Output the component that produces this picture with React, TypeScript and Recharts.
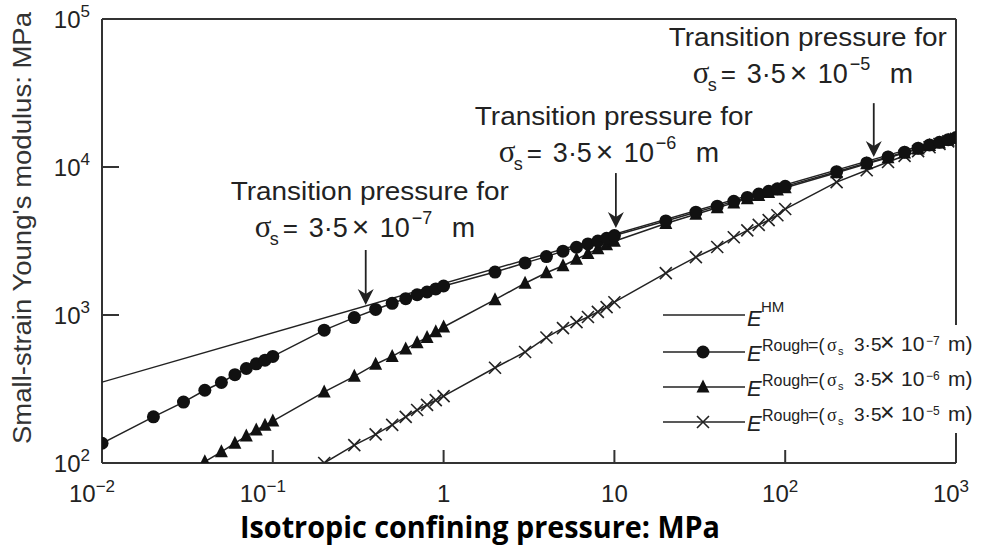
import React from 'react';
import { ScatterChart, Scatter, XAxis, YAxis, ReferenceLine } from 'recharts';

// confining pressure steps used by the rough-contact series (MPa)
const pressures = [
  0.01, 0.02, 0.03, 0.04, 0.05, 0.06, 0.07, 0.08, 0.09, 0.1,
  0.2, 0.3, 0.4, 0.5, 0.6, 0.7, 0.8, 0.9, 1,
  2, 3, 4, 5, 6, 7, 8, 9, 10,
  20, 30, 40, 50, 60, 70, 80, 90, 100,
  200, 300, 400, 500, 600, 700, 800, 900, 1000,
];

// sigma_s = 3.5e-7 m
const roughE7 = [
  136, 205, 258, 310, 350, 395, 435, 468, 495, 525,
  790, 960, 1090, 1200, 1290, 1370, 1430, 1500, 1570,
  1950, 2250, 2480, 2700, 2870, 3020, 3160, 3300, 3440,
  4320, 4950, 5440, 5860, 6230, 6560, 6860, 7130, 7400,
  9300, 10650, 11700, 12600, 13400, 14100, 14700, 15300, 15800,
];

// sigma_s = 3.5e-6 m
const roughE6 = [
  null, null, null, 102, 119, 136, 152, 167, 180, 192,
  302, 385, 465, 525, 590, 650, 705, 770, 830,
  1270, 1640, 1930, 2150, 2380, 2600, 2800, 2980, 3150,
  4150, 4800, 5300, 5720, 6100, 6430, 6720, 7000, 7250,
  9150, 10500, 11550, 12450, 13250, 13950, 14550, 15150, 15650,
];

// sigma_s = 3.5e-5 m
const roughE5 = [
  null, null, null, null, null, null, null, null, null, null,
  100, 132, 156, 181, 205, 228, 247, 266, 283,
  440, 562, 705, 815, 895, 970, 1050, 1130, 1220,
  1920, 2460, 2880, 3350, 3730, 4060, 4380, 4720, 5200,
  7900, 9500, 10800, 11900, 12800, 13600, 14300, 14900, 15500,
];

// Hertz-Mindlin smooth contact
const hmP = [0.01, 1000];
const hmE = [352, 16300];

// transition pressure callouts
const transitionP = [0.35, 10.2, 330];
const arrowTopE = [2750, 9100, 27000];
const arrowTipE = [1170, 3870, 11700];
const sigmaExp = [7, 6, 5];

const xTicks = [0.01, 0.1, 1, 10, 100, 1000];
const yTicks = [100, 1000, 10000, 100000];

const SANS = '"Liberation Sans", Arial, sans-serif';
const SERIF = '"Liberation Serif", "Times New Roman", serif';
const INK = '#222';

const toPoints = (ps: number[], es: (number | null)[]) =>
  ps.map((p, i) => ({ p, e: es[i] })).filter((d) => d.e != null);

const dataE7 = toPoints(pressures, roughE7);
const dataE6 = toPoints(pressures, roughE6);
const dataE5 = toPoints(pressures, roughE5);
const dataHM = toPoints(hmP, hmE);

const Dot = ({ cx, cy }: any) => <circle cx={cx} cy={cy} r={6.5} fill="#111" />;
const Tri = ({ cx, cy }: any) => (
  <polygon points={`${cx},${cy - 7.5} ${cx - 6.5},${cy + 5.5} ${cx + 6.5},${cy + 5.5}`} fill="#111" />
);
const Cross = ({ cx, cy }: any) => (
  <path
    d={`M${cx - 6},${cy - 6}L${cx + 6},${cy + 6}M${cx - 6},${cy + 6}L${cx + 6},${cy - 6}`}
    stroke={INK}
    strokeWidth={1.6}
  />
);
const NoMark = () => <g />;

const XTick = ({ x, y, payload }: any) => {
  const v = payload.value;
  const exp = Math.round(Math.log10(v));
  const plain = v === 1 || v === 10;
  const shift = plain ? 0 : exp < 0 ? -10 : -5;
  return (
    <g>
      <line x1={x} y1={y} x2={x} y2={y - 13} stroke="#333" strokeWidth={2} />
      <text x={x + shift} y={y + 39} textAnchor="middle" fontSize={24} fill={INK} fontFamily={SANS}>
        {plain ? (
          String(v)
        ) : (
          <>
            10
            <tspan dy={-10} fontSize={17}>
              {exp < 0 ? '\u2212' + -exp : String(exp)}
            </tspan>
          </>
        )}
      </text>
    </g>
  );
};

const YTick = ({ x, y, payload }: any) => {
  const exp = Math.round(Math.log10(payload.value));
  return (
    <g>
      <line x1={x} y1={y} x2={x + 17} y2={y} stroke="#333" strokeWidth={2} />
      <text x={x - 12} y={y + 9} textAnchor="end" fontSize={24} fill={INK} fontFamily={SANS}>
        10
        <tspan dy={-11} fontSize={17}>
          {String(exp)}
        </tspan>
      </text>
    </g>
  );
};

// "σs = 3·5 × 10^-n m"
const SigmaText = ({ x, y, exp }: { x: number; y: number; exp: number }) => (
  <g fill={INK} fontFamily={SANS}>
    <text x={x} y={y} fontSize={31} fontFamily={SERIF}>σ</text>
    <text x={x + 15} y={y + 8} fontSize={18}>s</text>
    <text x={x + 28} y={y} fontSize={26}>=</text>
    <text x={x + 54} y={y} fontSize={27}>3·5</text>
    <text x={x + 97} y={y} fontSize={30}>×</text>
    <text x={x + 125} y={y} fontSize={27}>10</text>
    <text x={x + 157} y={y - 13} fontSize={18}>{'\u2212' + exp}</text>
    <text x={x + 197} y={y} fontSize={28}>m</text>
  </g>
);

const callout = (exp: number, dx: number, gap: number) => (props: any) => {
  const { x1, y1, y2 } = props;
  const base = y1 - gap;
  return (
    <g>
      <line x1={x1} y1={y1} x2={x1} y2={y2 - 10} stroke={INK} strokeWidth={1.8} />
      <polygon
        points={`${x1 - 8},${y2 - 16} ${x1},${y2 - 11} ${x1 + 8},${y2 - 16} ${x1},${y2}`}
        fill={INK}
      />
      <text
        x={x1 - 137 + dx}
        y={base - 37}
        fontSize={25}
        fill={INK}
        fontFamily={SANS}
        textLength={278}
        lengthAdjust="spacingAndGlyphs"
      >
        Transition pressure for
      </text>
      <SigmaText x={x1 - 113 + dx} y={base} exp={exp} />
    </g>
  );
};

const calloutShift = [2, -4, -68];
const calloutGap = [13, 11, 20];

// E^Rough=(σs 3·5×10^-n m)
const RoughLabel = ({ x, y, exp }: { x: number; y: number; exp: number }) => {
  const s = y - 10;
  return (
    <g fill={INK} fontFamily={SANS}>
      <text x={x} y={y} fontSize={22} fontStyle="italic">E</text>
      <text x={x + 15} y={s} fontSize={16}>Rough</text>
      <text x={x + 61} y={s} fontSize={18}>=(</text>
      <text x={x + 80} y={s} fontSize={18} fontFamily={SERIF}>σ</text>
      <text x={x + 91} y={s + 4} fontSize={11}>s</text>
      <text x={x + 107} y={s} fontSize={19}>3·5</text>
      <text x={x + 133} y={s} fontSize={25}>×</text>
      <text x={x + 154} y={s} fontSize={21}>10</text>
      <text x={x + 179} y={s - 6} fontSize={12}>{'\u2212' + exp}</text>
      <text x={x + 201} y={s} fontSize={21}>m)</text>
    </g>
  );
};

const Legend = () => {
  const lx = 663;
  const rows = [315, 352, 387, 422];
  const marks = [Dot, Tri, Cross];
  return (
    <g>
      <rect x={658} y={325} width={331} height={108} fill="#fff" />
      {rows.map((ry) => (
        <line key={ry} x1={lx} y1={ry} x2={lx + 82} y2={ry} stroke={INK} strokeWidth={1.5} />
      ))}
      <text x={747} y={rows[0] + 11} fontSize={22} fontStyle="italic" fill={INK} fontFamily={SANS}>E</text>
      <text x={761} y={rows[0] - 3} fontSize={15} fill={INK} fontFamily={SANS}>HM</text>
      {sigmaExp.map((exp, i) => {
        const Mark = marks[i];
        return (
          <g key={exp}>
            <Mark cx={703} cy={rows[i + 1]} />
            <RoughLabel x={747} y={rows[i + 1] + 9} exp={exp} />
          </g>
        );
      })}
    </g>
  );
};

export default function App() {
  return (
    <div style={{ position: 'absolute', left: 0, top: 0, width: 989, height: 554, background: '#fff' }}>
      <ScatterChart width={989} height={554} margin={{ top: 19, right: 33, left: 0, bottom: 31 }}>
        <XAxis
          type="number"
          dataKey="p"
          scale="log"
          domain={[0.01, 1000]}
          ticks={xTicks}
          interval={0}
          allowDataOverflow
          height={60}
          tickSize={0}
          tickMargin={0}
          tickLine={false}
          tick={<XTick />}
          axisLine={{ stroke: '#333', strokeWidth: 2 }}
        />
        <YAxis
          type="number"
          dataKey="e"
          scale="log"
          domain={[100, 100000]}
          ticks={yTicks}
          interval={0}
          allowDataOverflow
          width={102}
          tickSize={0}
          tickMargin={0}
          tickLine={false}
          tick={<YTick />}
          axisLine={{ stroke: '#333', strokeWidth: 2 }}
        />
        <ReferenceLine y={100000} stroke="#333" strokeWidth={2} />
        <ReferenceLine x={1000} stroke="#333" strokeWidth={2} />
        <Scatter data={dataHM} shape={<NoMark />} line={{ stroke: INK, strokeWidth: 1.4 }} isAnimationActive={false} />
        <Scatter data={dataE5} shape={<Cross />} line={{ stroke: INK, strokeWidth: 1.5 }} isAnimationActive={false} />
        <Scatter data={dataE6} shape={<Tri />} line={{ stroke: INK, strokeWidth: 1.5 }} isAnimationActive={false} />
        <Scatter data={dataE7} shape={<Dot />} line={{ stroke: INK, strokeWidth: 1.5 }} isAnimationActive={false} />
        {transitionP.map((p, i) => (
          <ReferenceLine
            key={p}
            segment={[
              { x: p, y: arrowTopE[i] },
              { x: p, y: arrowTipE[i] },
            ]}
            shape={callout(sigmaExp[i], calloutShift[i], calloutGap[i])}
          />
        ))}
      </ScatterChart>
      <svg
        width={989}
        height={554}
        style={{ position: 'absolute', left: 0, top: 0, pointerEvents: 'none' }}
      >
        <Legend />
        <text
          transform="translate(31,228) rotate(-90)"
          textAnchor="middle"
          fontSize={26}
          fill="#333"
          fontFamily={SANS}
          textLength={432}
          lengthAdjust="spacingAndGlyphs"
        >
          Small-strain Young's modulus: MPa
        </text>
        <text
          x={480}
          y={538}
          textAnchor="middle"
          fontSize={31}
          fontWeight="bold"
          fill="#000"
          fontFamily='"Open Sans", "Noto Sans", sans-serif'
          textLength={480}
          lengthAdjust="spacingAndGlyphs"
        >
          Isotropic confining pressure: MPa
        </text>
      </svg>
    </div>
  );
}
